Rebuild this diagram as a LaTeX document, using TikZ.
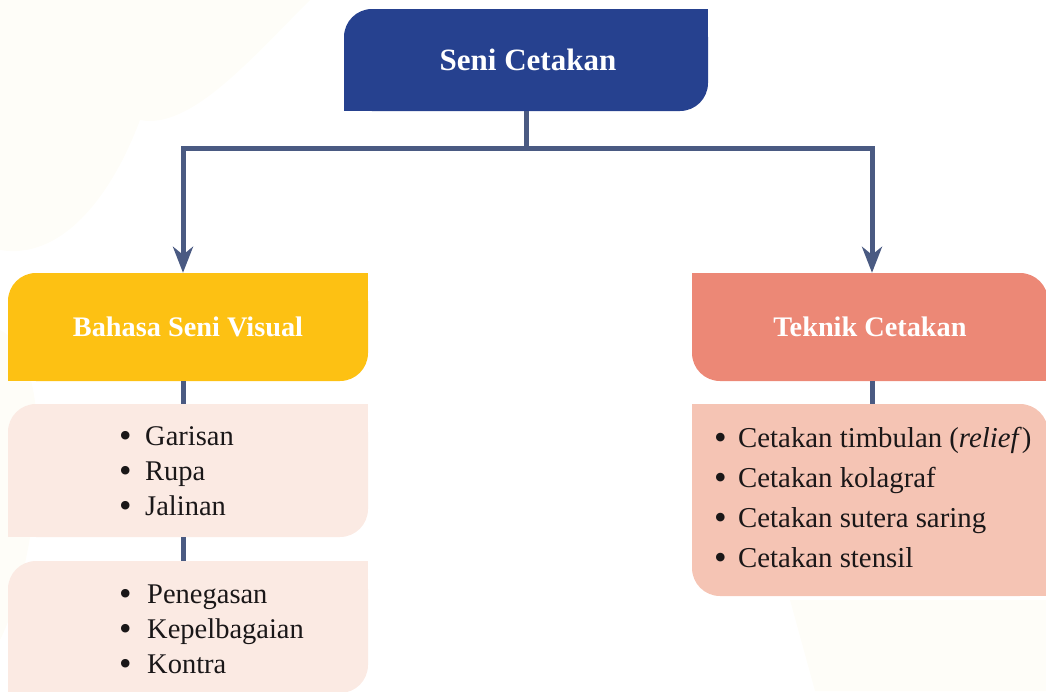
\documentclass[tikz,border=0pt]{standalone}
\usepackage{fontspec}
\setmainfont{Liberation Serif}
\usetikzlibrary{arrows.meta}

\definecolor{seniblue}{HTML}{26418F}
\definecolor{linkblue}{HTML}{4A5A82}
\definecolor{visualyellow}{HTML}{FDC113}
\definecolor{teknikred}{HTML}{EC8876}
\definecolor{visualpeach}{HTML}{FBEAE3}
\definecolor{teknikpeach}{HTML}{F5C4B4}
\definecolor{cream}{HTML}{FEFDF8}
\definecolor{inktext}{HTML}{1A1718}

\newcommand{\dotitem}[1]{\makebox[#1][l]{\raisebox{-2.2pt}{\scalebox{1.25}{\textbullet}}}}

\tikzset{
  box/.style={rectangle, rounded corners=28pt, inner sep=0pt},
  headbox/.style={box, minimum height=108pt, text=white,
    font=\fontsize{28.3}{33}\selectfont\bfseries},
  itemlist/.style={inner sep=0pt, align=left, text=inktext},
  link/.style={draw=linkblue, line width=5pt},
  arrowlink/.style={link, -{Stealth[length=26pt, width=20pt, inset=8pt]}}
}

\begin{document}
\begin{tikzpicture}[x=1pt, y=-1pt]
  \useasboundingbox (0,0) rectangle (1046,691);

  % ---- faint paper shapes behind everything ----
  \fill[cream] (0,0) -- (310,0) .. controls (250,60) and (190,130) .. (140,120)
       .. controls (110,200) and (60,260) .. (0,250) -- cycle;
  \fill[cream] (0,330) .. controls (60,360) and (40,560) .. (0,640) -- cycle;
  \fill[cream] (790,600) -- (1046,600) -- (1046,691) -- (815,691) -- cycle;

  % ---- the boxes ----
  \node[box, fill=seniblue, minimum width=364pt, minimum height=102pt]
        (seni) at (526,60) {};

  \node[headbox, fill=visualyellow, minimum width=360pt]
        (visual) at (188,327) {Bahasa Seni Visual};
  \node[headbox, fill=teknikred, minimum width=356pt]
        (teknik) at (870,327) {Teknik Cetakan};

  \node[box, fill=visualpeach, minimum width=360pt, minimum height=133pt]
        (visualA) at (188,470.5) {};
  \node[box, fill=visualpeach, minimum width=360pt, minimum height=132pt]
        (visualB) at (188,627) {};
  \node[box, fill=teknikpeach, minimum width=356pt, minimum height=192pt]
        (teknikA) at (870,500) {};

  % ---- only two corners of each box are rounded ----
  \foreach \n/\c in {seni/seniblue, visual/visualyellow,
                     visualA/visualpeach, visualB/visualpeach} {
    \fill[\c] (\n.north east) rectangle ++(-28pt,-28pt);
    \fill[\c] (\n.south west) rectangle ++(28pt,28pt);
  }
  \foreach \n/\c in {teknik/teknikred, teknikA/teknikpeach} {
    \fill[\c] (\n.north west) rectangle ++(28pt,-28pt);
    \fill[\c] (\n.south east) rectangle ++(-28pt,28pt);
  }
  \node[text=white, font=\fontsize{31}{36}\selectfont\bfseries]
        (senitext) at (528,60) {Seni Cetakan};

  % ---- the lists ----
  \node[itemlist, anchor=west, font=\fontsize{28.5}{35}\selectfont]
        (visualAitems) at (119,472)
        {\dotitem{26pt}Garisan\\\dotitem{26pt}Rupa\\\dotitem{26pt}Jalinan};
  \node[itemlist, anchor=west, font=\fontsize{28.5}{35}\selectfont]
        (visualBitems) at (119,630)
        {\dotitem{28pt}Penegasan\\\dotitem{28pt}Kepelbagaian\\\dotitem{28pt}Kontra};
  \node[itemlist, anchor=west, font=\fontsize{28.8}{40}\selectfont]
        (teknikAitems) at (714,498)
        {\dotitem{24pt}Cetakan timbulan (\textit{relief})\\
         \dotitem{24pt}Cetakan kolagraf\\
         \dotitem{24pt}Cetakan sutera saring\\
         \dotitem{24pt}Cetakan stensil};

  % ---- connectors ----
  \coordinate (fork) at (526,148.5);
  \draw[link] (seni.south) -- (fork);
  \draw[arrowlink] (fork) -| ([xshift=-5pt]visual.north);
  \draw[arrowlink] (fork) -| ([xshift=2pt]teknik.north);
  \draw[link] ([xshift=-5pt]visual.south) -- ([xshift=-5pt]visualA.north);
  \draw[link] ([xshift=-5pt]visualA.south) -- ([xshift=-5pt]visualB.north);
  \draw[link] ([xshift=2pt]teknik.south) -- ([xshift=2pt]teknikA.north);
\end{tikzpicture}
\end{document}
